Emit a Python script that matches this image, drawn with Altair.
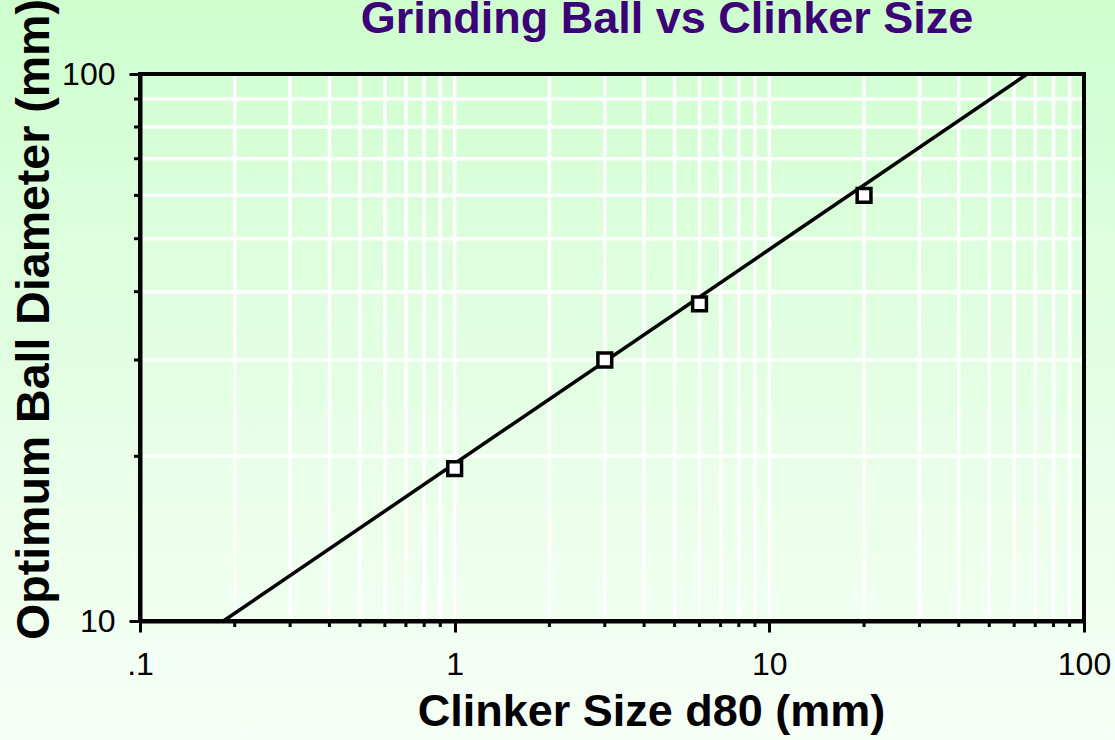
import altair as alt
import pandas as pd

# Measured points: clinker size d80 vs optimum ball diameter (mm)
clinker_mm = [1, 3, 6, 20]
ball_mm = [19, 30, 38, 60]

# End points of the fitted power-law line
fit_clinker = [0.184, 66.0]
fit_ball = [10, 100]

# Axis ticks and labels (log scales)
x_major = [0.1, 1, 10, 100]
x_major_labels = [".1", "1", "10", "100"]
y_major = [10, 100]
y_major_labels = ["10", "100"]

x_ticks = sorted({round(k * d, 6) for d in [0.1, 1, 10] for k in range(1, 10)} | {100})
y_ticks = [round(k * 10, 6) for k in range(1, 11)]
x_minor = [v for v in x_ticks if v not in x_major]
y_minor = [v for v in y_ticks if v not in y_major]

chart_title = "Grinding Ball vs Clinker Size"

W, H = 944, 547
PAD = {"left": 140, "top": 74, "right": 31, "bottom": 119}
FONT = "Liberation Sans"
MINOR_LEN = 6


def label_expr(values, labels):
    expr = "''"
    for v, lab in zip(reversed(values), reversed(labels)):
        expr = f"datum.value == {v} ? '{lab}' : ({expr})"
    return expr


x_scale = alt.Scale(type="log", domain=[0.1, 100], nice=False)
y_scale = alt.Scale(type="log", domain=[10, 100], nice=False)

x_axis = alt.Axis(
    orient="bottom", values=x_major, zindex=1,
    labelExpr=label_expr(x_major, x_major_labels),
    grid=False,
    domainColor="black", domainWidth=4,
    tickColor="black", tickWidth=3, tickSize=11,
    labelFont=FONT, labelFontSize=32, labelColor="black", labelPadding=17,
    labelFlush=False, labelOverlap=False,
    title="Clinker Size d80 (mm)", titleFont=FONT, titleFontSize=45,
    titleFontWeight="bold", titleColor="black",
    titleX=511, titleY=104, titleBaseline="alphabetic", titleAlign="center",
)
y_axis = alt.Axis(
    orient="left", values=y_major, zindex=1,
    labelExpr=label_expr(y_major, y_major_labels),
    grid=False,
    domainColor="black", domainWidth=4,
    tickColor="black", tickWidth=3, tickSize=11,
    labelFont=FONT, labelFontSize=32, labelColor="black", labelPadding=14,
    labelFlush=False, labelOverlap=False,
    title="Optimum Ball Diameter (mm)", titleFont=FONT, titleFontSize=46.5,
    titleFontWeight="bold", titleColor="black",
    titleAngle=270, titleX=-92, titleY=245, titleBaseline="alphabetic",
    titleAlign="center",
)

X = alt.X("d80:Q", scale=x_scale, axis=x_axis)
Y = alt.Y("ball:Q", scale=y_scale, axis=y_axis)

points_df = pd.DataFrame({"d80": clinker_mm, "ball": ball_mm})
fit_df = pd.DataFrame({"d80": fit_clinker, "ball": fit_ball})
xgrid_df = pd.DataFrame({"d80": x_ticks})
ygrid_df = pd.DataFrame({"ball": y_ticks})
xminor_df = pd.DataFrame({"d80": x_minor})
yminor_df = pd.DataFrame({"ball": y_minor})
one_row = pd.DataFrame({"k": [0]})

# Soft green vertical gradient behind the whole figure
background = alt.Chart(one_row).mark_rect(
    color=alt.LinearGradient(
        gradient="linear",
        stops=[
            alt.GradientStop(color="#cffecf", offset=0),
            alt.GradientStop(color="#f7fff7", offset=1),
        ],
        x1=0, x2=0, y1=0, y2=1,
    )
).encode(
    x=alt.value(-PAD["left"]),
    x2=alt.value(W + PAD["right"]),
    y=alt.value(-PAD["top"]),
    y2=alt.value(H + PAD["bottom"]),
)

# White log-grid lines at every tick
x_grid = alt.Chart(xgrid_df).mark_rule(color="white", strokeWidth=3.5).encode(x=X)
y_grid = alt.Chart(ygrid_df).mark_rule(color="white", strokeWidth=3.5).encode(y=Y)

# Short minor ticks outside the bottom and left edges
x_minor_ticks = alt.Chart(xminor_df).mark_rule(color="black", strokeWidth=3).encode(
    x=X, y=alt.value(H), y2=alt.value(H + MINOR_LEN),
)
y_minor_ticks = alt.Chart(yminor_df).mark_rule(color="black", strokeWidth=3).encode(
    y=Y, x=alt.value(-MINOR_LEN), x2=alt.value(0),
)

# Fitted power-law line
fit_line = alt.Chart(fit_df).mark_line(color="black", strokeWidth=3.5).encode(x=X, y=Y)

# Measured points as open squares
points = alt.Chart(points_df).mark_square(
    filled=True, fill="white", stroke="black", strokeWidth=3.5, size=190, opacity=1
).encode(x=X, y=Y)

# Black frame around the plotting area
frame = alt.Chart(one_row).mark_rect(
    fill=None, filled=False, stroke="black", strokeWidth=4
).encode(
    x=alt.value(0), x2=alt.value(W), y=alt.value(0), y2=alt.value(H),
)

# Chart heading above the frame
heading = alt.Chart(one_row).mark_text(
    text=chart_title, font=FONT, fontSize=45, fontWeight="bold", color="#3c0077",
    align="center", baseline="alphabetic",
).encode(x=alt.value(527), y=alt.value(-41))

chart = alt.layer(
    background, x_grid, y_grid, x_minor_ticks, y_minor_ticks,
    fit_line, points, frame, heading,
).properties(
    width=W,
    height=H,
    padding=PAD,
    autosize=alt.AutoSizeParams(type="none"),
).configure_view(stroke=None)

chart.save("out.html", embed_options={"renderer": "svg", "actions": False})
